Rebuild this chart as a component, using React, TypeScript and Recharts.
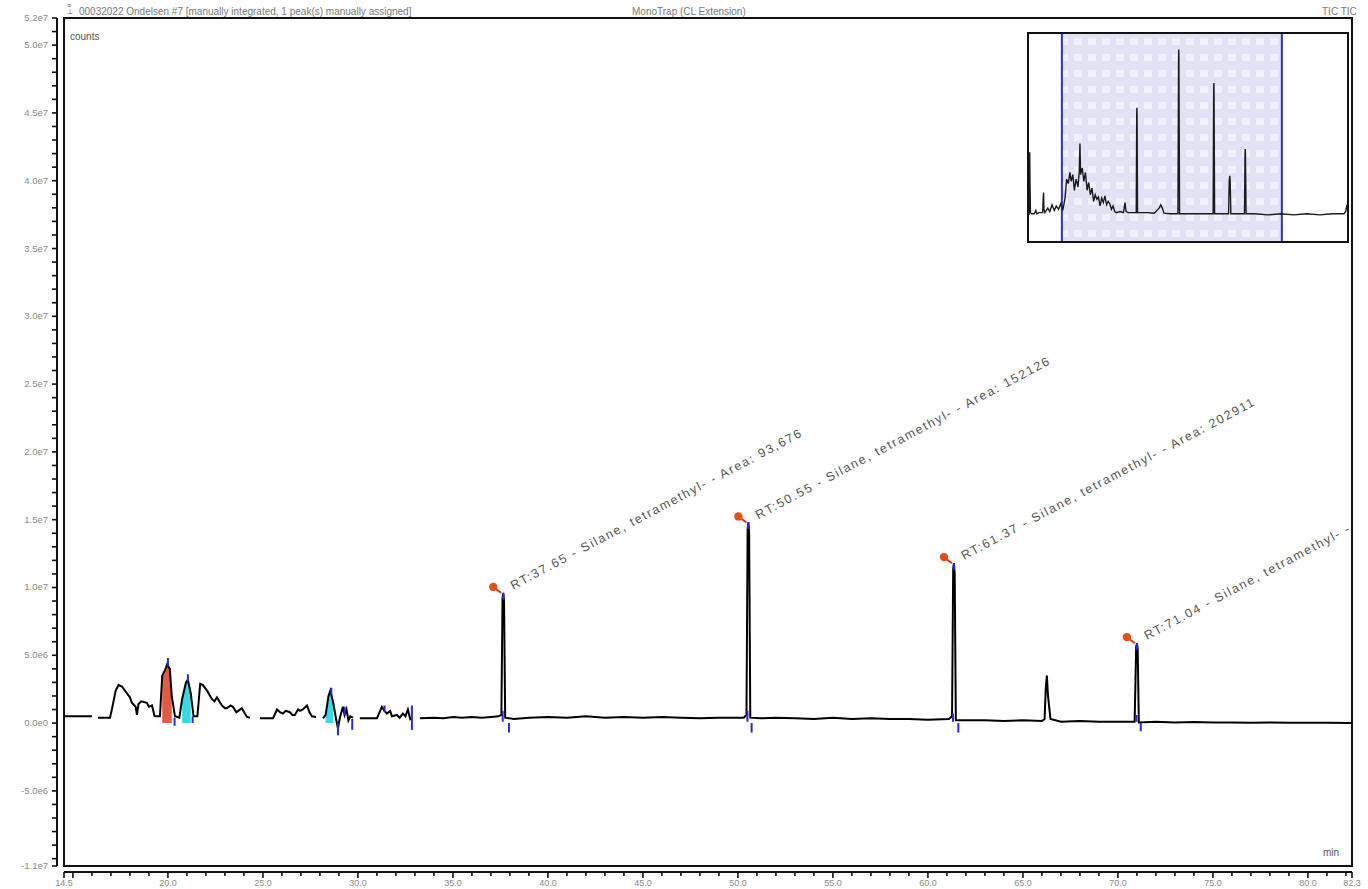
import React from 'react';
import {
  ComposedChart,
  LineChart,
  Line,
  Area,
  XAxis,
  YAxis,
  ReferenceArea,
  ReferenceLine,
  Scatter,
} from 'recharts';

// ---------- data (counts in millions, time in minutes) ----------
const X_MIN = 14.53;
const X_MAX = 82.32;
const Y_MIN = -10.54;
const Y_MAX = 52;

const mainTrace: [number, number | null][] = [
  [14.55, 0.5], [16.0, 0.5], [16.1, null], [16.32, 0.4], [16.95, 0.4], [17.05, 1.0], [17.25, 2.4],
  [17.4, 2.8], [17.58, 2.7], [17.84, 2.2], [18.0, 1.9], [18.1, 1.5], [18.3, 1.2], [18.37, 0.6],
  [18.45, 1.4], [18.6, 1.6], [18.89, 1.5], [19.0, 1.2], [19.16, 1.3], [19.3, 0.5], [19.58, 0.5],
  [19.7, 3.5], [19.85, 3.9], [19.95, 4.3], [20.1, 4.0], [20.2, 2.0], [20.37, 0.5], [20.6, 0.4],
  [20.75, 1.8], [20.95, 3.0], [21.05, 3.2], [21.2, 2.2], [21.35, 0.5], [21.55, 0.5], [21.7, 2.9],
  [21.84, 2.8], [22.0, 2.5], [22.1, 2.3], [22.3, 1.8], [22.45, 1.6], [22.58, 1.9], [22.75, 1.5],
  [22.84, 1.3], [23.0, 1.1], [23.1, 1.1], [23.3, 1.3], [23.42, 1.2], [23.6, 0.8], [23.7, 0.9],
  [23.89, 1.1], [24.05, 0.7], [24.16, 0.45], [24.32, 0.4], [24.5, null], [24.84, 0.35], [25.53, 0.35],
  [25.74, 1.0], [25.9, 0.8], [26.05, 0.7], [26.2, 0.9], [26.42, 0.8], [26.55, 0.6], [26.68, 0.6],
  [26.85, 1.0], [26.95, 0.9], [27.1, 1.0], [27.32, 1.3], [27.45, 0.8], [27.58, 0.5], [27.79, 0.45],
  [27.95, null], [28.16, 0.35], [28.3, 0.6], [28.45, 2.0], [28.55, 2.4], [28.7, 1.5], [28.85, 0.3],
  [28.95, -0.4], [29.05, 0.4], [29.21, 1.2], [29.3, 0.6], [29.4, 1.0], [29.5, 0.2], [29.6, 0.5],
  [29.74, 0.4], [29.9, null], [30.1, 0.35], [31.0, 0.35], [31.26, 1.2], [31.4, 0.9], [31.53, 0.7],
  [31.7, 0.9], [31.79, 0.5], [32.05, 0.6], [32.2, 0.4], [32.37, 0.7], [32.5, 0.5], [32.63, 1.0],
  [32.75, 0.3], [32.84, 0.4], [33.0, null], [33.26, 0.35], [34.0, 0.4], [34.5, 0.35], [35.0, 0.45],
  [35.5, 0.4], [36.0, 0.45], [36.5, 0.4], [37.0, 0.45], [37.4, 0.5], [37.55, 0.6], [37.61, 9.2],
  [37.65, 9.6], [37.69, 9.0], [37.75, 0.4], [38.2, 0.3], [39.0, 0.4], [40.0, 0.45], [41.0, 0.4],
  [42.0, 0.5], [43.0, 0.4], [44.0, 0.45], [45.0, 0.4], [46.0, 0.45], [47.0, 0.4], [48.0, 0.35],
  [49.0, 0.4], [50.3, 0.4], [50.45, 0.6], [50.51, 14.3], [50.55, 14.8], [50.59, 14.0], [50.65, 0.4],
  [51.2, 0.35], [52.0, 0.4], [53.0, 0.35], [54.0, 0.3], [55.0, 0.4], [56.0, 0.3], [57.0, 0.35],
  [58.0, 0.3], [59.0, 0.3], [60.0, 0.25], [61.1, 0.3], [61.27, 0.5], [61.33, 11.4], [61.37, 11.8],
  [61.41, 11.0], [61.47, 0.2], [62.0, 0.2], [63.0, 0.2], [64.0, 0.15], [65.0, 0.2], [66.0, 0.15],
  [66.14, 0.3], [66.2, 2.5], [66.26, 3.5], [66.32, 2.0], [66.45, 0.3], [67.0, 0.1], [68.0, 0.15],
  [69.0, 0.1], [70.0, 0.1], [70.88, 0.1], [70.96, 5.6], [71.0, 5.9], [71.04, 5.5], [71.1, 0.05],
  [72.0, 0.1], [73.0, 0.05], [74.0, 0.08], [75.0, 0.05], [76.0, 0.05], [77.0, 0.03], [78.0, 0.05],
  [79.0, 0.02], [80.0, 0.03], [81.0, 0.02], [82.32, 0.0],
];

const redFillRanges: [number, number][] = [[19.65, 20.25]];
const cyanFillRanges: [number, number][] = [[20.65, 21.3], [28.3, 28.8]];

// [time, from, to] blue integration markers
const markerSegments: [number, number, number][] = [
  [20.0, 4.2, 4.8], [20.35, 0.4, -0.2], [21.05, 3.1, 3.6], [21.3, 0.5, 0.0],
  [28.6, 2.1, 2.6], [28.95, 0.0, -0.9], [29.3, 1.2, 0.6], [29.7, 0.3, -0.5],
  [31.4, 1.3, 0.8], [32.84, 1.3, -0.5],
  [37.62, 0.9, 0.1], [37.65, 9.6, 9.1], [37.95, 0.0, -0.7],
  [50.5, 0.9, 0.1], [50.55, 14.8, 14.3], [50.72, 0.0, -0.7],
  [61.32, 0.7, 0.1], [61.37, 11.8, 11.3], [61.6, 0.0, -0.7],
  [70.98, 0.6, 0.1], [71.0, 5.9, 5.4], [71.2, 0.0, -0.6],
];

const peakTimes = [37.65, 50.55, 61.37, 71.0];
const peakHeights = [9.6, 14.8, 11.8, 5.9];
const peakLabels = [
  'RT:37.65 - Silane, tetramethyl- - Area: 93,676',
  'RT:50.55 - Silane, tetramethyl- - Area: 152126',
  'RT:61.37 - Silane, tetramethyl- - Area: 202911',
  'RT:71.04 - Silane, tetramethyl- - Area: 86352',
];

const insetTrace: [number, number][] = [
  [4.4, 0], [4.55, 3.0], [4.62, 5.6], [4.7, 3.0], [4.85, 0.2], [5.2, 0.1], [6.0, 0.1], [6.5, 0.4],
  [6.8, 0.1], [7.5, 0.2], [8.6, 0.2], [8.8, 1.6], [8.9, 2.0], [9.0, 0.5], [9.3, 0.2], [10.2, 0.6],
  [10.8, 0.3], [11.5, 0.9], [12.2, 0.4], [12.8, 0.8], [13.5, 0.5], [14.2, 1.0], [14.8, 0.4],
  [15.5, 1.5], [16.0, 3.2], [16.5, 2.8], [17.0, 3.8], [17.4, 3.0], [17.9, 3.6], [18.4, 2.2],
  [18.9, 3.2], [19.5, 2.5], [19.9, 4.0], [20.1, 6.4], [20.3, 3.6], [20.8, 4.2], [21.3, 3.0],
  [21.8, 3.8], [22.3, 2.2], [22.8, 2.9], [23.3, 1.8], [23.8, 2.4], [24.3, 1.2], [24.8, 1.8],
  [25.3, 1.4], [25.8, 1.6], [26.3, 0.8], [26.8, 1.5], [27.3, 1.1], [27.8, 1.7], [28.3, 0.9],
  [28.8, 1.2], [29.3, 1.0], [29.8, 0.5], [30.3, 0.8], [30.8, 0.3], [31.3, 0.2], [32.5, 0.3],
  [33.5, 0.2], [34.0, 1.1], [34.3, 0.3], [35.0, 0.2], [36.5, 0.2], [37.45, 0.2], [37.6, 9.0],
  [37.65, 9.6], [37.7, 9.0], [37.85, 0.2], [39.0, 0.2], [41.0, 0.2], [43.0, 0.15], [44.5, 0.6],
  [45.0, 0.9], [45.5, 0.6], [46.0, 0.15], [48.0, 0.1], [50.3, 0.1], [50.5, 14.0], [50.55, 14.8],
  [50.6, 14.0], [50.8, 0.1], [52.0, 0.1], [55.0, 0.1], [58.0, 0.1], [61.15, 0.1], [61.32, 11.2],
  [61.37, 11.8], [61.42, 11.2], [61.6, 0.1], [63.0, 0.1], [65.9, 0.1], [66.1, 3.0], [66.26, 3.5],
  [66.4, 3.0], [66.6, 0.1], [68.0, 0.1], [70.8, 0.1], [70.98, 5.5], [71.04, 5.9], [71.1, 5.5],
  [71.3, 0.1], [74.0, 0.1], [78.0, 0.0], [82.0, 0.1], [86.0, 0.0], [90.0, 0.1], [94.0, 0.0],
  [98.0, 0.1], [101.5, 0.1], [102.0, 0.3], [102.4, 0.9],
];
const INSET_X: [number, number] = [4.4, 102.4];
const INSET_Y: [number, number] = [-2.34, 16.2];

// ---------- derived tables ----------
const inRanges = (t: number, ranges: [number, number][]) =>
  ranges.some(([a, b]) => t >= a && t <= b);

const mainRows = mainTrace.map(([t, v]) => ({
  t,
  v,
  red: v !== null && inRanges(t, redFillRanges) ? v : null,
  cyan: v !== null && inRanges(t, cyanFillRanges) ? v : null,
}));

const annotations = peakTimes.map((t, i) => ({ t, v: peakHeights[i], label: peakLabels[i] }));
const insetRows = insetTrace.map(([t, v]) => ({ t, v }));

const xTicks: number[] = [X_MIN];
for (let m = 15; m <= 82; m++) xTicks.push(m);
xTicks.push(X_MAX);
const yTicks: number[] = [Y_MIN];
for (let m = -10; m <= 51; m++) yTicks.push(m);
yTicks.push(Y_MAX);

const LABEL_FONT = '"Liberation Sans", Arial, sans-serif';
const fmtY = (v: number) => (v * 1e6).toExponential(1).replace('e+', 'e');

const XTick = (props: any) => {
  const { x, y, payload } = props;
  const v = payload.value as number;
  const isEnd = v === X_MIN || v === X_MAX;
  const labeled = isEnd || (v % 5 === 0 && v >= 20);
  const major = v % 5 === 0 || isEnd;
  return (
    <g>
      <line x1={x} x2={x} y1={y} y2={y + (major ? 6 : 4)} stroke="#111" strokeWidth={1.6} />
      {labeled && (
        <text x={x} y={y + 14} textAnchor="middle" fontSize={9} fill="#8a8a8a" fontFamily={LABEL_FONT}>
          {v.toFixed(1)}
        </text>
      )}
    </g>
  );
};

const YTick = (props: any) => {
  const { x, y, payload } = props;
  const v = payload.value as number;
  const isEnd = v === Y_MIN || v === Y_MAX;
  const labeled = isEnd || (v % 5 === 0 && v !== -10);
  return (
    <g>
      <line x1={x - 5} x2={x} y1={y} y2={y} stroke="#111" strokeWidth={1.6} />
      {labeled && (
        <text x={x - 9} y={y + 3} textAnchor="end" fontSize={9.5} fill="#8a8a8a" fontFamily={LABEL_FONT}>
          {fmtY(v)}
        </text>
      )}
    </g>
  );
};

const AnnotationShape = (props: any) => {
  const { cx, cy, payload } = props;
  if (cx == null || cy == null) return <g />;
  const tx = cx + 10;
  const ty = cy - 3;
  return (
    <g>
      <line x1={cx - 9} y1={cy - 5} x2={cx - 2} y2={cy} stroke="#d04020" strokeWidth={2} />
      <circle cx={cx - 10} cy={cy - 6} r={4.2} fill="#e0501e" />
      <text
        x={tx}
        y={ty}
        transform={`rotate(-28 ${tx} ${ty})`}
        fontSize={12.5}
        letterSpacing={1.7}
        fill="#555"
        fontFamily={LABEL_FONT}
      >
        {payload.label}
      </text>
    </g>
  );
};

const CheckerArea = (props: any) => {
  const { x, y, width, height } = props;
  return (
    <g>
      <defs>
        <pattern id="insetChecker" width="14" height="16" patternUnits="userSpaceOnUse">
          <rect width="14" height="16" fill="#e2e2f7" />
          <rect x="3" y="4" width="8" height="7" fill="#f1f1fb" />
        </pattern>
      </defs>
      <rect x={x} y={y} width={width} height={height} fill="url(#insetChecker)" />
    </g>
  );
};

const textStyle: React.CSSProperties = {
  position: 'absolute',
  fontFamily: LABEL_FONT,
  color: '#7a7a7a',
  whiteSpace: 'nowrap',
  fontSize: 10,
  lineHeight: '12px',
};

export default function App() {
  return (
    <div style={{ position: 'absolute', left: 0, top: 0, width: 1368, height: 889, background: '#fff', overflow: 'hidden' }}>
      <ComposedChart
        width={1368}
        height={889}
        data={mainRows}
        margin={{ top: 18, right: 16, bottom: 0, left: 0 }}
      >
        <XAxis xAxisId="c_main" dataKey="t" type="number" domain={[X_MIN, X_MAX]} allowDataOverflow hide />
        <YAxis yAxisId="c_main" dataKey="v" type="number" domain={[Y_MIN, Y_MAX]} allowDataOverflow hide />
        <XAxis
          xAxisId="a_gap"
          dataKey="t"
          type="number"
          domain={[X_MIN, X_MAX]}
          allowDataOverflow
          height={6}
          axisLine={false}
          tickLine={false}
          tick={false}
        />
        <XAxis
          xAxisId="b_axis"
          dataKey="t"
          type="number"
          domain={[X_MIN, X_MAX]}
          allowDataOverflow
          ticks={xTicks}
          interval={0}
          height={17}
          tickSize={0}
          tickMargin={0}
          tickLine={false}
          axisLine={{ stroke: '#111', strokeWidth: 2 }}
          tick={<XTick />}
        />
        <YAxis
          yAxisId="a_gap"
          dataKey="v"
          type="number"
          domain={[Y_MIN, Y_MAX]}
          allowDataOverflow
          width={7}
          axisLine={false}
          tickLine={false}
          tick={false}
        />
        <YAxis
          yAxisId="b_axis"
          dataKey="v"
          type="number"
          domain={[Y_MIN, Y_MAX]}
          allowDataOverflow
          ticks={yTicks}
          interval={0}
          width={57}
          tickSize={0}
          tickMargin={0}
          tickLine={false}
          axisLine={{ stroke: '#111', strokeWidth: 2 }}
          tick={<YTick />}
        />
        <ReferenceArea
          xAxisId="c_main"
          yAxisId="c_main"
          x1={X_MIN}
          x2={X_MAX}
          y1={Y_MIN}
          y2={Y_MAX}
          fill="none"
          fillOpacity={0}
          stroke="#111"
          strokeWidth={2}
          ifOverflow="visible"
        />
        <Area
          xAxisId="c_main"
          yAxisId="c_main"
          dataKey="red"
          type="linear"
          stroke="none"
          fill="#e0503a"
          fillOpacity={0.95}
          baseValue={0}
          isAnimationActive={false}
        />
        <Area
          xAxisId="c_main"
          yAxisId="c_main"
          dataKey="cyan"
          type="linear"
          stroke="none"
          fill="#33d4e4"
          fillOpacity={0.95}
          baseValue={0}
          isAnimationActive={false}
        />
        <Line
          xAxisId="c_main"
          yAxisId="c_main"
          dataKey="v"
          type="linear"
          stroke="#000"
          strokeWidth={2}
          dot={false}
          connectNulls={false}
          isAnimationActive={false}
        />
        {markerSegments.map(([t, a, b], i) => (
          <ReferenceLine
            key={i}
            xAxisId="c_main"
            yAxisId="c_main"
            segment={[{ x: t, y: a }, { x: t, y: b }]}
            stroke="#2a2ad0"
            strokeWidth={2}
            ifOverflow="visible"
          />
        ))}
        <Scatter
          xAxisId="c_main"
          yAxisId="c_main"
          data={annotations}
          dataKey="v"
          shape={<AnnotationShape />}
          isAnimationActive={false}
        />
      </ComposedChart>

      {/* header texts */}
      <div style={{ ...textStyle, left: 67, top: 3, fontSize: 7, lineHeight: '6px', color: '#555' }}>
        ≡<br />⊥
      </div>
      <div style={{ ...textStyle, left: 79, top: 6 }}>
        00032022 Ondelsen #7 [manually integrated, 1 peak(s) manually assigned]
      </div>
      <div style={{ ...textStyle, left: 632, top: 6 }}>MonoTrap (CL Extension)</div>
      <div style={{ ...textStyle, left: 1322, top: 6, width: 30, textAlign: 'right' }}>TIC TIC</div>
      <div style={{ ...textStyle, left: 70, top: 31, color: '#555' }}>counts</div>
      <div style={{ ...textStyle, left: 1323, top: 847, color: '#555' }}>min</div>

      {/* inset overview */}
      <div
        style={{
          position: 'absolute',
          left: 1027,
          top: 32,
          width: 322,
          height: 211,
          boxSizing: 'border-box',
          border: '2px solid #111',
          background: '#fff',
        }}
      >
        <LineChart width={318} height={207} data={insetRows} margin={{ top: 0, right: 0, bottom: 0, left: 0 }}>
          <XAxis dataKey="t" type="number" domain={INSET_X} allowDataOverflow hide />
          <YAxis type="number" domain={INSET_Y} allowDataOverflow hide />
          <ReferenceArea x1={X_MIN} x2={X_MAX} shape={<CheckerArea />} ifOverflow="visible" />
          <ReferenceLine x={X_MIN} stroke="#2f2fc0" strokeWidth={2} />
          <ReferenceLine x={X_MAX} stroke="#2f2fc0" strokeWidth={2} />
          <Line
            dataKey="v"
            type="linear"
            stroke="#1a1a1a"
            strokeWidth={1.4}
            dot={false}
            isAnimationActive={false}
          />
        </LineChart>
      </div>
    </div>
  );
}
